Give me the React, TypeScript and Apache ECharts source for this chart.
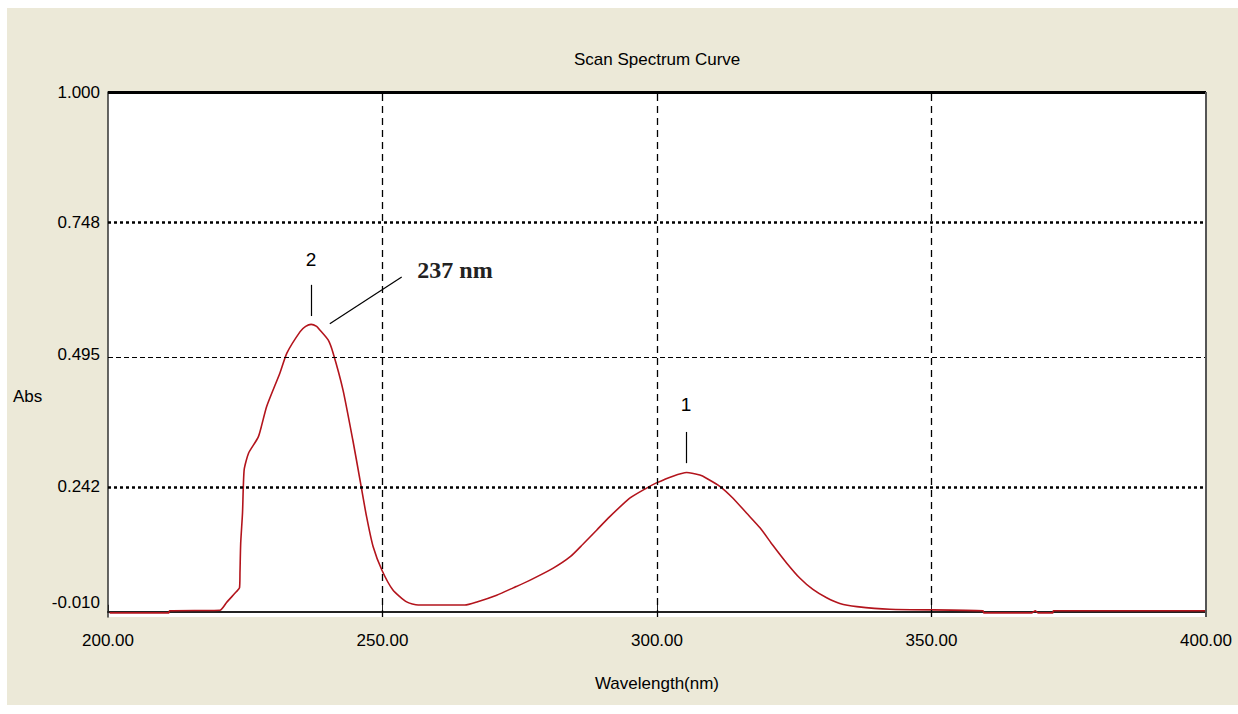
import React, { useEffect, useRef } from "react";
import * as echarts from "echarts";

const wavelength = [200.3, 211.1, 211.2, 220.4, 221.6, 223.4, 223.95, 224.04, 224.17, 224.5, 224.8, 225.6, 227.4, 228.9, 231.3, 232.6, 235.0, 236.0, 237.0, 238.0, 238.6, 240.1, 241.0, 242.8, 244.6, 245.9, 247.1, 248.3, 249.9, 251.9, 254.4, 256.5, 265.0, 267.2, 270.8, 273.8, 276.9, 281.1, 284.2, 286.5, 289.0, 291.4, 295.1, 298.1, 299.9, 302.9, 305.4, 307.8, 309.0, 311.5, 313.8, 316.3, 318.8, 321.1, 323.6, 326.0, 328.4, 330.9, 333.3, 336.4, 342.4, 359.4, 359.5, 368.3, 368.9, 369.4, 372.1, 372.2, 400];
const absorbance = [-0.002, -0.002, 0.002, 0.003, 0.018, 0.039, 0.046, 0.075, 0.132, 0.19, 0.273, 0.305, 0.337, 0.395, 0.459, 0.498, 0.539, 0.549, 0.553, 0.549, 0.542, 0.523, 0.498, 0.427, 0.33, 0.254, 0.183, 0.125, 0.08, 0.042, 0.019, 0.013, 0.013, 0.019, 0.032, 0.046, 0.061, 0.084, 0.106, 0.13, 0.157, 0.183, 0.219, 0.238, 0.248, 0.261, 0.268, 0.263, 0.257, 0.241, 0.219, 0.19, 0.161, 0.128, 0.094, 0.065, 0.043, 0.027, 0.016, 0.01, 0.005, 0.002, -0.002, -0.002, 0.002, -0.002, -0.002, 0.002, 0.002];

const yTickValues = [-0.01, 0.242, 0.495, 0.748, 1.0];
const yGridValues = [0.242, 0.495, 0.748];
const xGridValues = [250, 300, 350];
const xMin = 200;
const xMax = 400;
const xInterval = 50;

// peak annotations
const peakNumbers = ["2", "1"];
const peakWavelengths = [237, 305.3];
const peakTickBottom = [0.569, 0.286];
const peakTickTop = [0.629, 0.346];
const peakLabelY = [0.678, 0.398];
const calloutText = "237 nm";
const calloutFrom = [240.4, 0.554];
const calloutTo = [253.5, 0.644];
const calloutLabelPos = [263.2, 0.658];

const FONT = "'Liberation Sans', Arial, sans-serif";
const FS = 17;

export default function App() {
  const ref = useRef<HTMLDivElement>(null);
  useEffect(() => {
    if (!ref.current) return;
    const chart = echarts.init(ref.current, undefined, { renderer: "svg" });
    const lineData = wavelength.map((w, i) => [w, absorbance[i]]);

    const gridMarks: any[] = [];
    yGridValues.forEach((v, i) => {
      const bold = i !== 1;
      gridMarks.push({
        yAxis: v,
        lineStyle: bold
          ? { type: [3, 3], width: 2.5, color: "#000" }
          : { type: [5, 3], width: 1.2, color: "#000" },
      });
    });
    gridMarks.push({ yAxis: 1.0, lineStyle: { type: "solid", width: 3, color: "#000" } });
    xGridValues.forEach((v) => {
      gridMarks.push({ xAxis: v, lineStyle: { type: [7, 5], width: 1.3, color: "#000" } });
    });
    gridMarks.push({ xAxis: xMax, lineStyle: { type: "solid", width: 2, color: "#555" } });

    const annoLines: any[] = peakWavelengths.map((w, i) => [
      { coord: [w, peakTickBottom[i]] },
      { coord: [w, peakTickTop[i]] },
    ]);
    annoLines.push([{ coord: calloutFrom }, { coord: calloutTo }]);

    const annoPoints: any[] = peakWavelengths.map((w, i) => ({
      coord: [w, peakLabelY[i]],
      value: peakNumbers[i],
      label: {
        show: true,
        position: "inside",
        formatter: peakNumbers[i],
        color: "#000",
        fontSize: 19,
        fontFamily: FONT,
      },
    }));
    annoPoints.push({
      coord: calloutLabelPos,
      value: calloutText,
      label: {
        show: true,
        position: "inside",
        formatter: calloutText,
        color: "#222",
        fontSize: 24,
        fontWeight: "bold",
        fontFamily: "'Liberation Serif', 'Times New Roman', serif",
      },
    });

    chart.setOption({
      animation: false,
      backgroundColor: "#ECE9D8",
      textStyle: { fontFamily: FONT },
      title: {
        text: "Scan Spectrum Curve",
        left: 562,
        top: 38,
        textStyle: { fontSize: FS, fontWeight: "normal", color: "#000", fontFamily: FONT },
      },
      grid: {
        left: 101,
        right: 32,
        top: 84,
        bottom: 88,
        show: true,
        backgroundColor: "#fff",
        borderWidth: 0,
      },
      xAxis: {
        type: "value",
        min: xMin,
        max: xMax,
        interval: xInterval,
        name: "Wavelength(nm)",
        nameLocation: "middle",
        nameGap: 58,
        nameTextStyle: { fontSize: FS, color: "#000", fontFamily: FONT },
        axisLine: { show: true, lineStyle: { color: "#222", width: 2 } },
        axisTick: { show: true, inside: true, length: 7, lineStyle: { color: "#222", width: 1 } },
        axisLabel: {
          margin: 15,
          fontSize: FS,
          color: "#000",
          fontFamily: FONT,
          formatter: (v: number) => v.toFixed(2),
        },
        splitLine: { show: false },
      },
      yAxis: {
        type: "value",
        min: yTickValues[0],
        max: yTickValues[yTickValues.length - 1],
        axisLine: { show: true, lineStyle: { color: "#333", width: 1.5 } },
        axisTick: { show: false },
        splitLine: { show: false },
        axisLabel: {
          customValues: yTickValues,
          margin: 8,
          fontSize: FS,
          color: "#000",
          fontFamily: FONT,
          formatter: (v: number) =>
            v === yTickValues[0] ? "{lo|" + v.toFixed(3) + "}" : v.toFixed(3),
          rich: {
            lo: { fontSize: FS, fontFamily: FONT, color: "#000", padding: [0, 0, 30, 0] },
          },
        },
      },
      graphic: [
        {
          type: "text",
          left: 6,
          top: 380,
          style: { text: "Abs", fontSize: FS, fill: "#000", fontFamily: FONT },
        },
      ],
      series: [
        {
          type: "line",
          data: lineData,
          z: 1,
          symbol: "none",
          silent: true,
          lineStyle: { width: 0, opacity: 0 },
          markLine: {
            silent: true,
            symbol: ["none", "none"],
            label: { show: false },
            data: gridMarks,
          },
        },
        {
          type: "line",
          data: lineData,
          z: 3,
          symbol: "none",
          smooth: 0.2,
          lineStyle: { color: "#B3141C", width: 1.6 },
          markLine: {
            silent: true,
            symbol: ["none", "none"],
            label: { show: false },
            lineStyle: { color: "#000", width: 1.2, type: "solid" },
            data: annoLines,
          },
          markPoint: {
            silent: true,
            symbol: "circle",
            symbolSize: 1,
            itemStyle: { color: "rgba(0,0,0,0)" },
            data: annoPoints,
          },
        },
      ],
    });
    return () => chart.dispose();
  }, []);
  return (
    <div
      ref={ref}
      style={{ position: "fixed", left: 7, top: 8, width: 1231, height: 697 }}
    />
  );
}
